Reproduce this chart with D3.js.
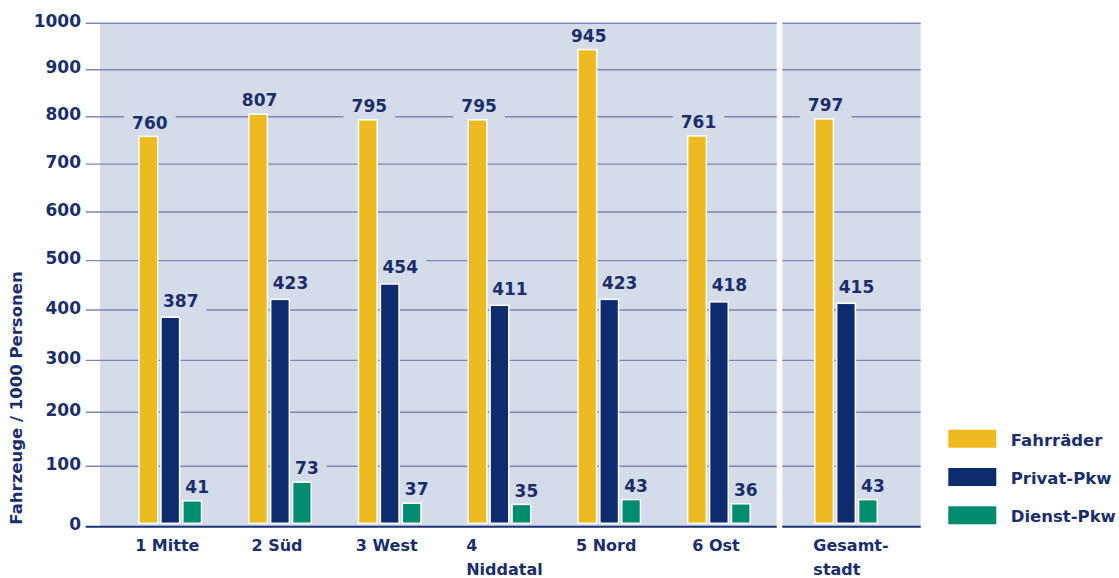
<!DOCTYPE html>
<html>
<head>
<meta charset="utf-8">
<script src="https://cdn.jsdelivr.net/npm/d3@7"></script>
<style>
  html, body { margin: 0; padding: 0; background: #ffffff; }
  svg { display: block; }
  text { font-family: "DejaVu Sans", sans-serif; font-weight: bold; fill: #1b2e6c; }
</style>
</head>
<body>
<svg id="chart" width="1119" height="578"></svg>
<script>
// ---- data ----
const districts = ["1 Mitte", "2 Süd", "3 West", "4 Niddatal", "5 Nord", "6 Ost"];
const totalCategory = ["Gesamtstadt"];
const categoryLines = {
  "1 Mitte": ["1 Mitte"],
  "2 Süd": ["2 Süd"],
  "3 West": ["3 West"],
  "4 Niddatal": ["4", "Niddatal"],
  "5 Nord": ["5 Nord"],
  "6 Ost": ["6 Ost"],
  "Gesamtstadt": ["Gesamt-", "stadt"]
};
const series = ["Fahrräder", "Privat-Pkw", "Dienst-Pkw"];
const fahrraeder = [760, 807, 795, 795, 945, 761, 797];
const privatPkw = [387, 423, 454, 411, 423, 418, 415];
const dienstPkw = [41, 73, 37, 35, 43, 36, 43];
const yTicks = [0, 100, 200, 300, 400, 500, 600, 700, 800, 900, 1000];
const yTitle = "Fahrzeuge / 1000 Personen";

// ---- styles ----
const colors = { "Fahrräder": "#edba1f", "Privat-Pkw": "#0d2b6f", "Dienst-Pkw": "#008c6f" };
const labelDx = { "Fahrräder": 1.5, "Privat-Pkw": 10.5, "Dienst-Pkw": 5 };
const labelGap = { "Fahrräder": 7, "Privat-Pkw": 10, "Dienst-Pkw": 7 };
const plotBg = "#d4dce9";
const gridColor = "#7f86b5";
const axisColor = "#1b3070";

const svg = d3.select("#chart");
const categories = districts.concat(totalCategory);
const values = { "Fahrräder": fahrraeder, "Privat-Pkw": privatPkw, "Dienst-Pkw": dienstPkw };

// ---- scales ----
const y = d3.scalePow().exponent(0.92).domain([0, 1000]).range([526.7, 23.3]);
const xMain = d3.scaleBand().domain(districts).range([115.4, 773.8]).padding(0);
const xTotal = d3.scaleBand().domain(totalCategory).range([791, 901]).padding(0);
const xSub = d3.scaleBand().domain(series).range([-32, 32]).paddingInner(0.08);
const center = c => districts.includes(c) ? xMain(c) + xMain.bandwidth() / 2 : xTotal(c) + xTotal.bandwidth() / 2;

// panels
const panels = [
  { bgX0: 100, x0: 85.7, x1: 776.7 },
  { bgX0: 782.3, x0: 782.3, x1: 920.7 }
];

// backgrounds
svg.selectAll("rect.bg").data(panels).enter().append("rect")
  .attr("class", "bg")
  .attr("x", d => d.bgX0).attr("y", y(1000))
  .attr("width", d => d.x1 - d.bgX0).attr("height", y(0) - y(1000))
  .attr("fill", plotBg);

// gridlines
panels.forEach(p => {
  svg.append("g").selectAll("line").data(yTicks.filter(t => t > 0)).enter().append("line")
    .attr("x1", p.x0).attr("x2", p.x1)
    .attr("y1", d => y(d)).attr("y2", d => y(d))
    .attr("stroke", gridColor).attr("stroke-width", 1.4);
  svg.append("line")
    .attr("x1", p.x0).attr("x2", p.x1)
    .attr("y1", y(0)).attr("y2", y(0))
    .attr("stroke", axisColor).attr("stroke-width", 2);
});

// tick labels
svg.append("g").selectAll("text").data(yTicks).enter().append("text")
  .attr("x", 81).attr("y", d => y(d) + 3.5)
  .attr("text-anchor", "end").attr("font-size", 17)
  .text(d => d);

// y title
svg.append("text")
  .attr("transform", "translate(22," + 398 + ") rotate(-90)")
  .attr("text-anchor", "middle").attr("font-size", 16.5)
  .text(yTitle);

// bar data
const barData = [];
categories.forEach((c, i) => {
  series.forEach(s => {
    barData.push({ cat: c, series: s, value: values[s][i] });
  });
});
const barX = d => center(d.cat) + xSub(d.series);

// labels (with backgrounds that knock out gridlines)
const labelG = svg.append("g");
const labels = labelG.selectAll("text").data(barData).enter().append("text")
  .attr("x", d => barX(d) + xSub.bandwidth() / 2 + labelDx[d.series])
  .attr("y", d => y(d.value) - labelGap[d.series])
  .attr("text-anchor", "middle").attr("font-size", 17)
  .text(d => d.value);
const bgG = svg.insert("g", () => labelG.node());
labels.each(function() {
  const b = this.getBBox();
  bgG.append("rect")
    .attr("x", b.x - 8).attr("y", b.y + 2)
    .attr("width", b.width + 16).attr("height", b.height + 2)
    .attr("fill", plotBg);
});

// bars (over label backgrounds, under labels)
const barG = svg.insert("g", () => labelG.node());
barG.selectAll("rect").data(barData).enter().append("rect")
  .attr("x", d => barX(d) + 0.75)
  .attr("y", d => y(d.value) + 0.75)
  .attr("width", xSub.bandwidth() - 1.5)
  .attr("height", d => Math.max(0, y(0) - 3.4 - y(d.value) - 0.75))
  .attr("fill", d => colors[d.series])
  .attr("stroke", "#ffffff").attr("stroke-width", 1.5);

// category labels
categories.forEach(c => {
  const lines = categoryLines[c];
  const t = svg.append("text").attr("font-size", 16).attr("y", 551);
  lines.forEach((ln, k) => {
    t.append("tspan").attr("x", 0).attr("dy", k === 0 ? 0 : 24).text(ln);
  });
  if (lines.length === 1) {
    t.attr("text-anchor", "middle").selectAll("tspan").attr("x", center(c) - 3);
  } else {
    let w = 0;
    t.selectAll("tspan").each(function() { w = Math.max(w, this.getComputedTextLength()); });
    t.attr("text-anchor", "start").selectAll("tspan").attr("x", center(c) - w / 2 + 5);
  }
});

// legend
const legend = svg.append("g").attr("transform", "translate(948.3,429.7)");
const li = legend.selectAll("g").data(series).enter().append("g")
  .attr("transform", (d, i) => "translate(0," + (i * 38.3) + ")");
li.append("rect").attr("width", 48).attr("height", 18).attr("fill", d => colors[d]);
li.append("text").attr("x", 62.4).attr("y", 16).attr("font-size", 16.5).text(d => d);
</script>
</body>
</html>
